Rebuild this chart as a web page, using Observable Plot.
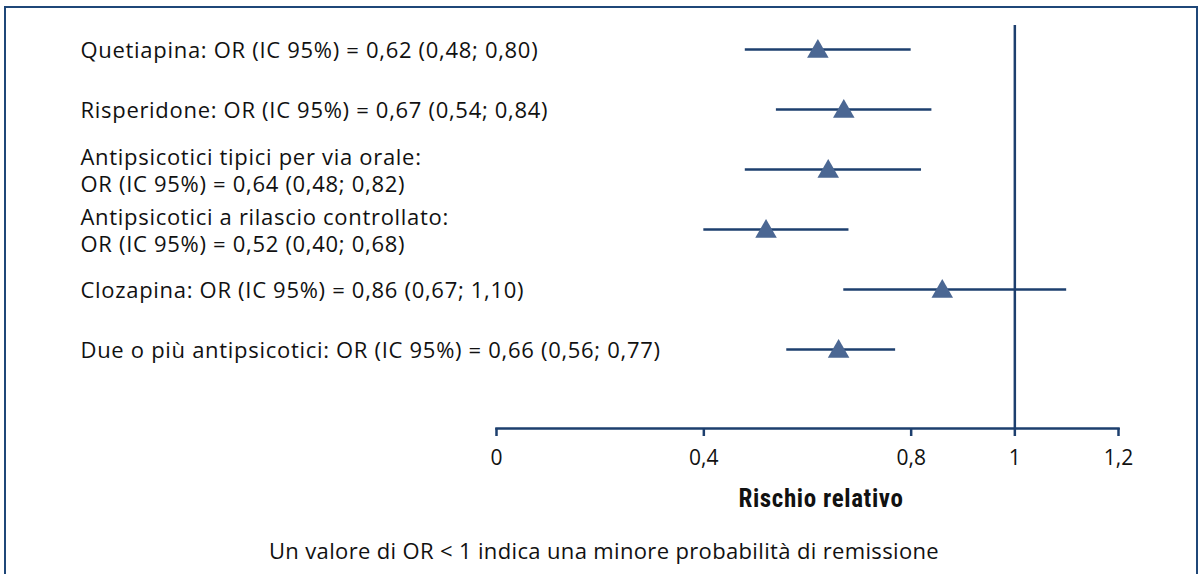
<!DOCTYPE html>
<html>
<head>
<meta charset="utf-8">
<script src="https://cdn.jsdelivr.net/npm/d3@7"></script>
<script src="https://cdn.jsdelivr.net/npm/@observablehq/plot@0.6"></script>
<style>
  html, body { margin: 0; padding: 0; background: #fff; }
  #wrap { position: relative; width: 1203px; height: 574px; overflow: hidden; font-family: "Open Sans", Lato, sans-serif; color: #111; }
  #border { position: absolute; left: 4px; top: 6px; width: 1194px; height: 600px; border: 2px solid #1f4778; border-bottom: none; box-sizing: border-box; }
  #chart { position: absolute; left: 0; top: 0; }
  #xlabel { position: absolute; top: 484px; left: 821px; transform: translateX(-50%); font-family: "Liberation Sans Narrow", "Roboto Condensed", Roboto, sans-serif; font-weight: bold; font-size: 25px; letter-spacing: 0.6px; white-space: nowrap; }
  #caption { position: absolute; top: 535px; left: 604px; transform: translateX(-50%); font-size: 22px; letter-spacing: 0.35px; white-space: nowrap; font-weight: 400; }
</style>
</head>
<body>
<div id="wrap">
  <div id="border"></div>
  <div id="chart"></div>
  <div id="xlabel"></div>
  <div id="caption"></div>
</div>
<script>
const names = ["Quetiapina", "Risperidone", "Antipsicotici tipici per via orale", "Antipsicotici a rilascio controllato", "Clozapina", "Due o più antipsicotici"];
const orValues = [0.62, 0.67, 0.64, 0.52, 0.86, 0.66];
const ciLow = [0.48, 0.54, 0.48, 0.40, 0.67, 0.56];
const ciHigh = [0.80, 0.84, 0.82, 0.68, 1.10, 0.77];
const twoLine = [false, false, true, true, false, false];
const xTicks = [0, 0.4, 0.8, 1, 1.2];
const xLabel = "Rischio relativo";
const captionText = "Un valore di OR < 1 indica una minore probabilità di remissione";

const fmt = v => v.toFixed(2).replace(".", ",");
const data = names.map((n, i) => ({
  name: n,
  or: orValues[i],
  lo: ciLow[i],
  hi: ciHigh[i],
  text: n + ":" + (twoLine[i] ? "\n" : " ") + `OR (IC 95%) = ${fmt(orValues[i])} (${fmt(ciLow[i])}; ${fmt(ciHigh[i])})`
}));

const lineColor = "#1d3f6e";
const markColor = "#4b6793";

const chart = Plot.plot({
  width: 1203,
  height: 480,
  marginLeft: 496,
  marginRight: 85,
  marginTop: 25,
  marginBottom: 52,
  style: { fontFamily: "'Open Sans', Lato, sans-serif", color: "#111", background: "transparent" },
  x: { domain: [0, 1.2] },
  y: { type: "point", domain: names, range: [48, 350], padding: 0, axis: null },
  marks: [
    Plot.frame({ anchor: "bottom", stroke: lineColor, strokeWidth: 2.5 }),
    Plot.ruleX([1], { stroke: lineColor, strokeWidth: 2.5 }),
    Plot.axisX({
      ticks: xTicks,
      tickFormat: d => String(d).replace(".", ","),
      tickSize: 8,
      tickPadding: 14,
      stroke: lineColor,
      strokeWidth: 2.5,
      fontSize: 21,
      fill: "#111",
      label: null
    }),
    Plot.ruleY(data, { y: "name", x1: "lo", x2: "hi", stroke: lineColor, strokeWidth: 2.5 }),
    Plot.dot(data, { y: "name", x: "or", symbol: "triangle", r: 8, fill: markColor, stroke: "none", dy: 2 }),
    Plot.text(data, {
      y: "name",
      text: "text",
      frameAnchor: "left",
      dx: -416,
      textAnchor: "start",
      lineAnchor: "middle",
      lineHeight: 1.23,
      fontSize: 22,
      fill: "#111"
    })
  ]
});
d3.select(chart).selectAll("g[aria-label='text'] text").style("letter-spacing", "0.7px");
document.getElementById("chart").appendChild(chart);
document.getElementById("xlabel").textContent = xLabel;
document.getElementById("caption").textContent = captionText;
</script>
</body>
</html>
